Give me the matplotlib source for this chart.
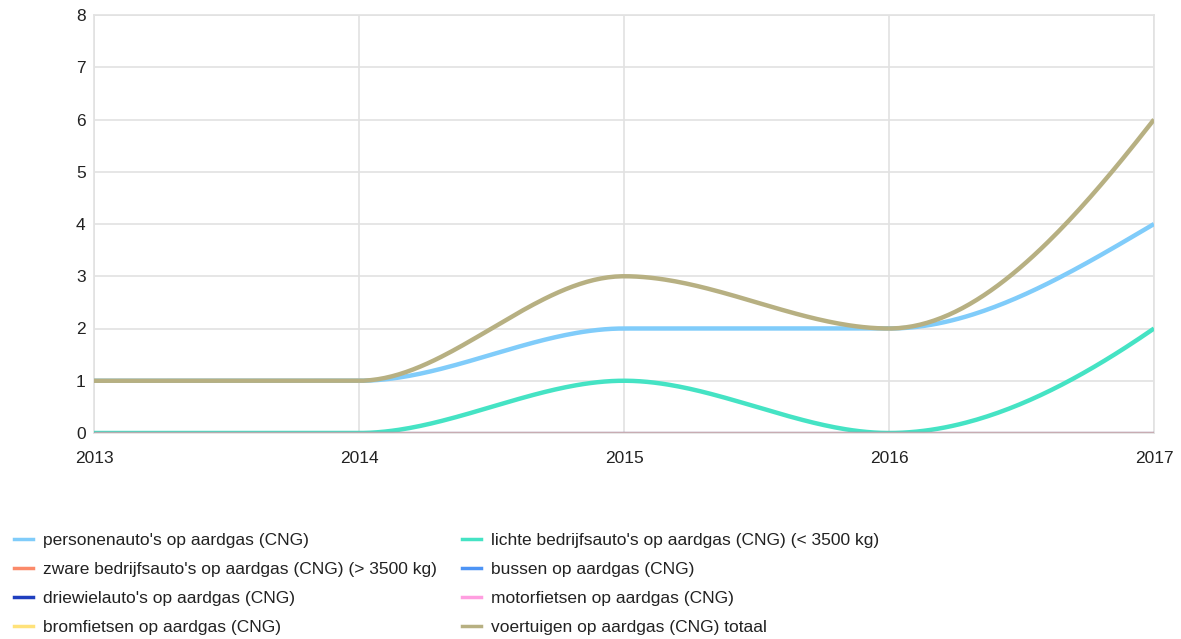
import numpy as np
import matplotlib
matplotlib.use("Agg")
from matplotlib import pyplot as plt
from matplotlib.lines import Line2D

years = [2013, 2014, 2015, 2016, 2017]

personenauto = [1, 1, 2, 2, 4]
lichte_bedrijfsauto = [0, 0, 1, 0, 2]
zware_bedrijfsauto = [0, 0, 0, 0, 0]
bussen = [0, 0, 0, 0, 0]
driewielauto = [0, 0, 0, 0, 0]
motorfietsen = [0, 0, 0, 0, 0]
bromfietsen = [0, 0, 0, 0, 0]
totaal = [1, 1, 3, 2, 6]

labels = ["personenauto's op aardgas (CNG)",
          "lichte bedrijfsauto's op aardgas (CNG) (< 3500 kg)",
          "zware bedrijfsauto's op aardgas (CNG) (> 3500 kg)",
          "bussen op aardgas (CNG)",
          "driewielauto's op aardgas (CNG)",
          "motorfietsen op aardgas (CNG)",
          "bromfietsen op aardgas (CNG)",
          "voertuigen op aardgas (CNG) totaal"]
colors = ["#80ccfa", "#45e3c4", "#fb8a6a", "#4d94f5",
          "#1f3fbf", "#ff9ee0", "#ffe27a", "#b7b082"]
series = [personenauto, lichte_bedrijfsauto, zware_bedrijfsauto, bussen,
          driewielauto, motorfietsen, bromfietsen, totaal]


def smooth(x, y, n=300):
    # monotone cubic (Fritsch-Carlson) so the curve looks like the original
    x = np.asarray(x, float)
    y = np.asarray(y, float)
    h = np.diff(x)
    d = np.diff(y) / h
    m = np.zeros(len(x))
    for k in range(1, len(x) - 1):
        if d[k - 1] * d[k] > 0:
            w1 = 2 * h[k] + h[k - 1]
            w2 = h[k] + 2 * h[k - 1]
            m[k] = (w1 + w2) / (w1 / d[k - 1] + w2 / d[k])

    def end(h0, h1, d0, d1):
        s = ((2 * h0 + h1) * d0 - h0 * d1) / (h0 + h1)
        if np.sign(s) != np.sign(d0):
            return 0.0
        if np.sign(d0) != np.sign(d1) and abs(s) > 3 * abs(d0):
            return 3 * d0
        return s
    m[0] = end(h[0], h[1], d[0], d[1])
    m[-1] = end(h[-1], h[-2], d[-1], d[-2])
    xs = np.linspace(x[0], x[-1], n)
    idx = np.clip(np.searchsorted(x, xs) - 1, 0, len(x) - 2)
    t = (xs - x[idx]) / h[idx]
    h00 = 2 * t**3 - 3 * t**2 + 1
    h10 = t**3 - 2 * t**2 + t
    h01 = -2 * t**3 + 3 * t**2
    h11 = t**3 - t**2
    ys = h00 * y[idx] + h10 * h[idx] * m[idx] + h01 * y[idx + 1] + h11 * h[idx] * m[idx + 1]
    return xs, ys


plt.rcParams['font.family'] = ['Liberation Sans', 'DejaVu Sans']
fig = plt.figure(figsize=(11.81, 6.39), dpi=100)
ax = fig.add_axes([94 / 1181, 1 - 433 / 639, 1060 / 1181, 418 / 639])

for vals, c in zip(series, colors):
    xs, ys = smooth(years, vals)
    flat = max(vals) == 0
    # the all-zero series sit on the axis and blend into a thin tan line
    ax.plot(xs, ys, color=c, lw=2.4 if flat else 3.2, alpha=0.35 if flat else 1,
            solid_capstyle="butt", zorder=3)

ax.set_xlim(2013, 2017)
ax.set_ylim(0, 8)
ax.set_xticks(years)
ax.set_yticks(range(0, 9))
ax.grid(True, color="#e2e2e2", lw=1.2, zorder=0)
for s in ax.spines.values():
    s.set_color("#e2e2e2")
    s.set_linewidth(1.2)
ax.tick_params(length=0, labelsize=12.5, colors="#222222")
ax.tick_params(axis="x", pad=13)
ax.tick_params(axis="y", pad=6)

handles = [Line2D([], [], color=c, lw=2.5) for c in colors]
col1 = [0, 2, 4, 6]
col2 = [1, 3, 5, 7]
for cols, xa in ((col1, 0 / 1181), (col2, 448 / 1181)):
    fig.legend([handles[i] for i in cols], [labels[i] for i in cols],
               loc="upper left", bbox_to_anchor=(xa, 1 - 519 / 639),
               frameon=False, fontsize=12.5, handlelength=1.1,
               handletextpad=0.6, labelspacing=0.8, labelcolor="#222222",
               borderpad=0.3)

fig.savefig("out.png", dpi=100)
